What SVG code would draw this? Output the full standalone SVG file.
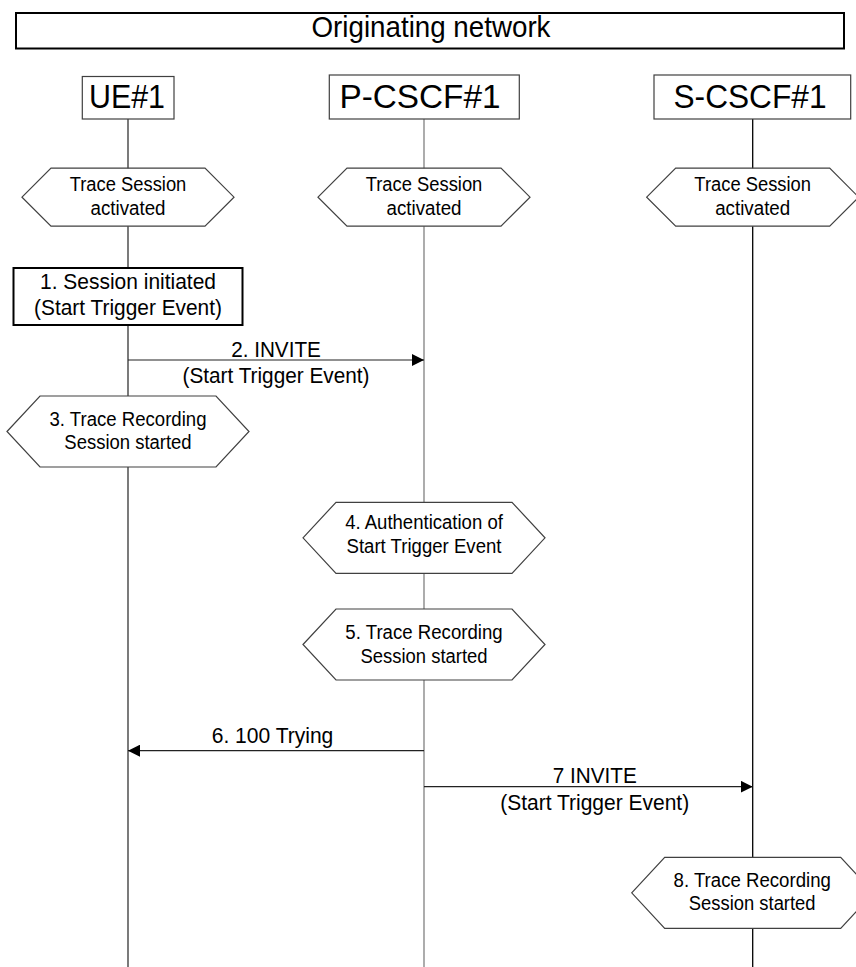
<svg xmlns="http://www.w3.org/2000/svg" xmlns:xlink="http://www.w3.org/1999/xlink" width="856" height="967" viewBox="0 0 856 967">
<style>
  text { font-family: "Liberation Sans", Arial, sans-serif; fill: #000; text-anchor: middle; }
  .title { font-size: 30px; }
  .head { font-size: 34px; }
  .hx { font-size: 19.5px; }
  .msg { font-size: 21.5px; }
  .hexS, .hexL { fill: #fff; stroke: #404040; stroke-width: 1.2; }
  .hbox { fill: #fff; stroke: #404040; stroke-width: 1.2; }
  .tbox { fill: #fff; stroke: #000; stroke-width: 2; }
  .life { fill: none; stroke-width: 1.3; }
  .arrow { stroke: #222; stroke-width: 1.2; fill: none; marker-end: url(#ah); }
</style>
<defs>
  <marker id="ah" markerUnits="userSpaceOnUse" markerWidth="12" markerHeight="12" refX="12" refY="6" orient="auto">
    <path d="M0,0 L12,6 L0,12 Z" fill="#000"/>
  </marker>
  <polygon id="hs" class="hexS" points="-106,0 -77,-29 77,-29 106,0 77,29 -77,29"/>
  <polygon id="hl" class="hexL" points="-121,0 -88,-35.5 88,-35.5 121,0 88,35.5 -88,35.5"/>
</defs>

<g id="connectors">
  <line class="life" x1="128" y1="119" x2="128" y2="967" stroke="#333"/>
  <line class="life" x1="424" y1="119" x2="424" y2="967" stroke="#808080"/>
  <line class="life" x1="752.7" y1="119" x2="752.7" y2="967" stroke="#000"/>
  <g id="msg2">
    <line class="arrow" x1="128" y1="360" x2="424" y2="360"/>
    <text class="msg" x="276" y="356.5" textLength="89.7" lengthAdjust="spacingAndGlyphs">2. INVITE</text>
    <text class="msg" x="276" y="383" textLength="187" lengthAdjust="spacingAndGlyphs">(Start Trigger Event)</text>
  </g>
  <g id="msg6">
    <line class="arrow" x1="424" y1="750.7" x2="128" y2="750.7"/>
    <text class="msg" x="272.5" y="743.3" textLength="121.6" lengthAdjust="spacingAndGlyphs">6. 100 Trying</text>
  </g>
  <g id="msg7">
    <line class="arrow" x1="424" y1="786.7" x2="752.7" y2="786.7"/>
    <text class="msg" x="594.7" y="783.3" textLength="84" lengthAdjust="spacingAndGlyphs">7 INVITE</text>
    <text class="msg" x="594.7" y="810" textLength="189" lengthAdjust="spacingAndGlyphs">(Start Trigger Event)</text>
  </g>
</g>

<g id="title">
  <rect class="tbox" x="16" y="13" width="828" height="35.5"/>
  <text class="title" x="431" y="36.5" textLength="239" lengthAdjust="spacingAndGlyphs">Originating network</text>
</g>

<g id="ue1">
  <rect class="hbox" x="82.3" y="76.5" width="91.7" height="42.5"/>
  <text class="head" x="127" y="108.3" textLength="76" lengthAdjust="spacingAndGlyphs">UE#1</text>
</g>
<g id="pcscf1">
  <rect class="hbox" x="329.3" y="75" width="190" height="44"/>
  <text class="head" x="420" y="108.3" textLength="161" lengthAdjust="spacingAndGlyphs">P-CSCF#1</text>
</g>
<g id="scscf1">
  <rect class="hbox" x="654" y="75" width="196.7" height="44"/>
  <text class="head" x="750" y="108.3" textLength="153" lengthAdjust="spacingAndGlyphs">S-CSCF#1</text>
</g>

<g id="ts-ue">
  <use xlink:href="#hs" x="128" y="197.2"/>
  <text class="hx" x="128" y="190.7" textLength="116.7" lengthAdjust="spacingAndGlyphs">Trace Session</text>
  <text class="hx" x="128" y="215" textLength="75" lengthAdjust="spacingAndGlyphs">activated</text>
</g>
<g id="ts-p">
  <use xlink:href="#hs" x="424" y="197.2"/>
  <text class="hx" x="424" y="190.7" textLength="116.7" lengthAdjust="spacingAndGlyphs">Trace Session</text>
  <text class="hx" x="424" y="215" textLength="75" lengthAdjust="spacingAndGlyphs">activated</text>
</g>
<g id="ts-s">
  <use xlink:href="#hs" x="752.7" y="197.2"/>
  <text class="hx" x="752.7" y="190.7" textLength="116.7" lengthAdjust="spacingAndGlyphs">Trace Session</text>
  <text class="hx" x="752.7" y="215" textLength="75" lengthAdjust="spacingAndGlyphs">activated</text>
</g>

<g id="step1">
  <rect class="tbox" x="13.5" y="268" width="229" height="57"/>
  <text class="msg" x="128" y="289.3" textLength="176" lengthAdjust="spacingAndGlyphs">1. Session initiated</text>
  <text class="msg" x="128" y="315" textLength="188" lengthAdjust="spacingAndGlyphs">(Start Trigger Event)</text>
</g>

<g id="step3">
  <use xlink:href="#hl" x="128" y="431.5"/>
  <text class="hx" x="128" y="426" textLength="157" lengthAdjust="spacingAndGlyphs">3. Trace Recording</text>
  <text class="hx" x="128" y="449" textLength="127.3" lengthAdjust="spacingAndGlyphs">Session started</text>
</g>
<g id="step4">
  <use xlink:href="#hl" x="424" y="537.8"/>
  <text class="hx" x="424" y="529" textLength="157.7" lengthAdjust="spacingAndGlyphs">4. Authentication of</text>
  <text class="hx" x="424" y="553.3" textLength="155" lengthAdjust="spacingAndGlyphs">Start Trigger Event</text>
</g>
<g id="step5">
  <use xlink:href="#hl" x="424" y="644.5"/>
  <text class="hx" x="424" y="639.3" textLength="157.3" lengthAdjust="spacingAndGlyphs">5. Trace Recording</text>
  <text class="hx" x="424" y="663.3" textLength="127" lengthAdjust="spacingAndGlyphs">Session started</text>
</g>
<g id="step8">
  <use xlink:href="#hl" x="752.7" y="892.8"/>
  <text class="hx" x="752.2" y="886.7" textLength="157.3" lengthAdjust="spacingAndGlyphs">8. Trace Recording</text>
  <text class="hx" x="752.2" y="910" textLength="126.7" lengthAdjust="spacingAndGlyphs">Session started</text>
</g>
</svg>
